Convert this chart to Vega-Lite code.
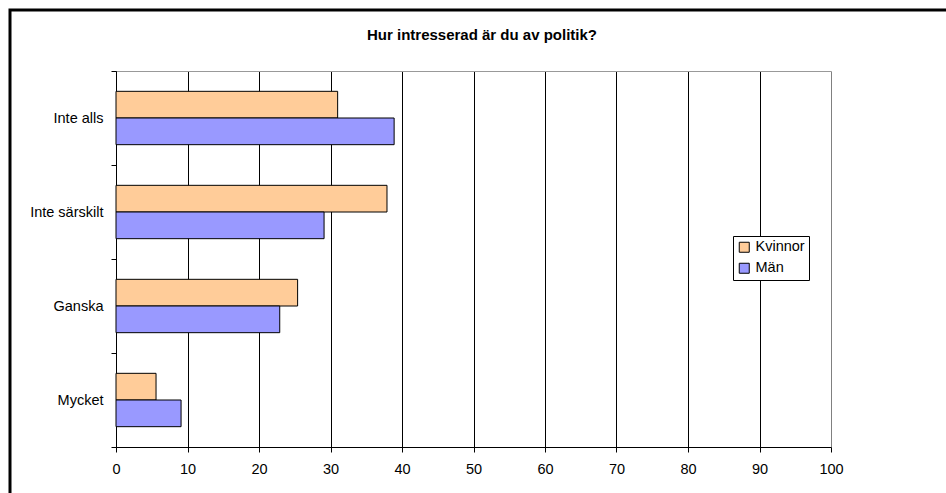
{
  "$schema": "https://vega.github.io/schema/vega-lite/v6.json",
  "width": 938,
  "height": 498,
  "autosize": {"type": "none"},
  "padding": {"left": 10, "top": 10, "right": -2, "bottom": -15},
  "background": "white",
  "config": {
    "view": {"stroke": "black", "strokeWidth": 3, "fill": "white"},
    "font": "Liberation Sans"
  },
  "title": {
    "text": "Hur intresserad är du av politik?",
    "fontSize": 15,
    "fontWeight": "bold",
    "font": "Liberation Sans",
    "color": "black",
    "anchor": "middle",
    "offset": -41,
    "dx": 3
  },
  "data": {
    "values": [
      {"svar": "Inte alls", "kon": "Kvinnor", "procent": 31.0},
      {"svar": "Inte alls", "kon": "Män", "procent": 38.9},
      {"svar": "Inte särskilt", "kon": "Kvinnor", "procent": 37.9},
      {"svar": "Inte särskilt", "kon": "Män", "procent": 29.1},
      {"svar": "Ganska", "kon": "Kvinnor", "procent": 25.4},
      {"svar": "Ganska", "kon": "Män", "procent": 22.9},
      {"svar": "Mycket", "kon": "Kvinnor", "procent": 5.6},
      {"svar": "Mycket", "kon": "Män", "procent": 9.1}
    ]
  },
  "mark": {"type": "bar", "stroke": "black", "strokeWidth": 1},
  "encoding": {
    "y": {
      "field": "svar",
      "type": "nominal",
      "sort": ["Inte alls", "Inte särskilt", "Ganska", "Mycket"],
      "scale": {"range": [61, 437], "paddingInner": 0, "paddingOuter": 0},
      "axis": {
        "orient": "left",
        "offset": -106,
        "tickBand": "extent",
        "grid": true,
        "gridColor": "#999999",
        "gridOpacity": {"condition": {"test": "!!datum.extra", "value": 1}, "value": 0},
        "domainColor": "black",
        "tickColor": "black",
        "tickSize": 5,
        "labelPadding": 8,
        "labelFontSize": 14.5,
        "labelFont": "Liberation Sans",
        "labelColor": "black",
        "title": null
      }
    },
    "yOffset": {
      "field": "kon",
      "type": "nominal",
      "sort": ["Kvinnor", "Män"],
      "scale": {"paddingInner": 0, "paddingOuter": 0.762}
    },
    "x": {
      "field": "procent",
      "type": "quantitative",
      "scale": {"domain": [0, 100], "range": [106, 821], "nice": false},
      "axis": {
        "orient": "bottom",
        "offset": -61,
        "values": [0, 10, 20, 30, 40, 50, 60, 70, 80, 90, 100],
        "grid": true,
        "gridColor": {"condition": {"test": "datum.value === 100", "value": "#808080"}, "value": "#000000"},
        "gridWidth": 1,
        "domainColor": "black",
        "tickColor": "black",
        "tickSize": 5,
        "labelPadding": 10,
        "labelFontSize": 14.5,
        "labelFont": "Liberation Sans",
        "labelColor": "black",
        "labelFlush": false,
        "labelOverlap": false,
        "title": null
      }
    },
    "color": {
      "field": "kon",
      "type": "nominal",
      "scale": {"domain": ["Kvinnor", "Män"], "range": ["#FFCC99", "#9999FF"]},
      "legend": {
        "orient": "none",
        "legendX": 723,
        "legendY": 226,
        "direction": "vertical",
        "title": null,
        "strokeColor": "black",
        "fillColor": "white",
        "padding": 4,
        "symbolType": "square",
        "symbolSize": 100,
        "symbolStrokeColor": "black",
        "symbolStrokeWidth": 1,
        "symbolOpacity": 1,
        "labelFontSize": 14.5,
        "labelFont": "Liberation Sans",
        "labelColor": "black",
        "labelOffset": 4,
        "rowPadding": 5
      }
    }
  }
}
